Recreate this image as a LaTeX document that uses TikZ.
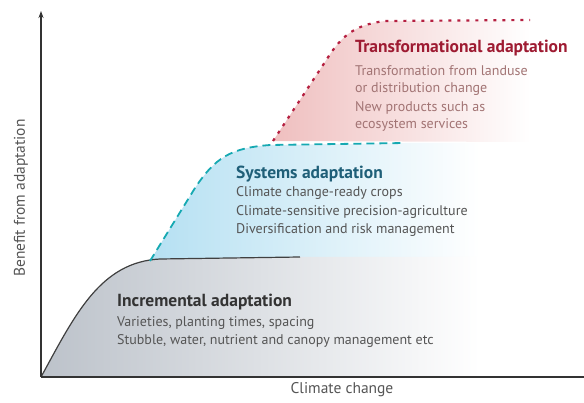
\documentclass[tikz,border=0pt]{standalone}
\usepackage{fontspec}
\setmainfont{PT Sans}
\usetikzlibrary{arrows.meta}
\definecolor{tred}{HTML}{9E1B32}
\definecolor{tredbody}{HTML}{A27474}
\definecolor{tdot}{HTML}{B51F40}
\definecolor{steal}{HTML}{1F5F78}
\definecolor{sdash}{HTML}{16A9B2}
\definecolor{bodygray}{HTML}{555555}
\definecolor{incgray}{HTML}{333333}
\definecolor{pinkfill}{HTML}{EFBFBF}
\definecolor{bluefill}{HTML}{B5E0F2}
\definecolor{greyfill}{HTML}{BCC2CA}
\tikzset{
  titletext/.style={anchor=base west, inner sep=0pt, font=\fontsize{17.5}{19}\selectfont\bfseries},
  bodytext/.style={anchor=base west, inner sep=0pt, font=\fontsize{14}{16}\selectfont},
  axislabel/.style={inner sep=0pt, text=bodygray, font=\fontsize{15.5}{17}\selectfont},
  axisline/.style={line width=1.1pt, draw=black!80},
}
\begin{document}
\begin{tikzpicture}[x=1pt,y=-1pt]
\useasboundingbox (0,0) rectangle (584,403);
% fills
\shade[left color=pinkfill, right color=white]
  (273,141) -- (325,62) .. controls (340,38) and (352,25) .. (385,21) -- (530,20) -- (530,142) -- cycle;
\shade[left color=bluefill, right color=white]
  (150,261) -- (195,188) .. controls (215,158) and (230,148) .. (270,145) -- (405,143) -- (480,143) -- (480,257) -- (300,257) -- cycle;
\shade[left color=greyfill, right color=white]
  (41,377) .. controls (75,315) and (100,262) .. (160,259) -- (300,257) -- (480,257) -- (480,377) -- cycle;
% coordinates
\coordinate (O) at (41,377);
\coordinate (Ytop) at (41,11);
\coordinate (Xend) at (584,377);
\coordinate (i1) at (160,259);
\coordinate (i2) at (300,257);
\coordinate (s0) at (150,261);
\coordinate (s1) at (195,188);
\coordinate (s2) at (270,145);
\coordinate (s3) at (405,143);
\coordinate (t0) at (273,141);
\coordinate (t1) at (325,62);
\coordinate (t2) at (385,21);
\coordinate (t3) at (530,20);
% curves
\draw[line width=1.2pt, draw=black!75] (O) .. controls (75,315) and (100,262) .. (i1) -- (i2);
\draw[line width=1.8pt, draw=sdash, dash pattern=on 8pt off 5pt] (s0) -- (s1) .. controls (215,158) and (230,148) .. (s2) -- (s3);
\draw[line width=2.2pt, draw=tdot, dash pattern=on 3pt off 6pt] (t0) -- (t1) .. controls (340,38) and (352,25) .. (t2) -- (t3);
% axes
\draw[axisline, -{Stealth[length=7pt,width=5pt]}] (O) -- (Ytop);
\draw[axisline] (O) -- (Xend);
% text
\node[titletext, text=tred] (ttitle) at (355,53) {Transformational adaptation};
\node[bodytext, text=tredbody] (tb1) at (355,76) {Transformation from landuse};
\node[bodytext, text=tredbody] (tb2) at (355,93) {or distribution change};
\node[bodytext, text=tredbody] (tb3) at (355,112) {New products such as};
\node[bodytext, text=tredbody] (tb4) at (355,129) {ecosystem services};
\node[titletext, text=steal] (stitle) at (236,179) {Systems adaptation};
\node[bodytext, text=bodygray] (sb1) at (236,197) {Climate change-ready crops};
\node[bodytext, text=bodygray] (sb2) at (236,216) {Climate-sensitive precision-agriculture};
\node[bodytext, text=bodygray] (sb3) at (236,234) {Diversification and risk management};
\node[titletext, text=incgray] (ititle) at (117,307) {Incremental adaptation};
\node[bodytext, text=bodygray] (ib1) at (117,327) {Varieties, planting times, spacing};
\node[bodytext, text=bodygray] (ib2) at (117,345) {Stubble, water, nutrient and canopy management etc};
\node[axislabel] (xlab) at (342,390) {Climate change};
\node[axislabel, rotate=90] (ylab) at (21,198) {Benefit from adaptation};
\end{tikzpicture}
\end{document}
